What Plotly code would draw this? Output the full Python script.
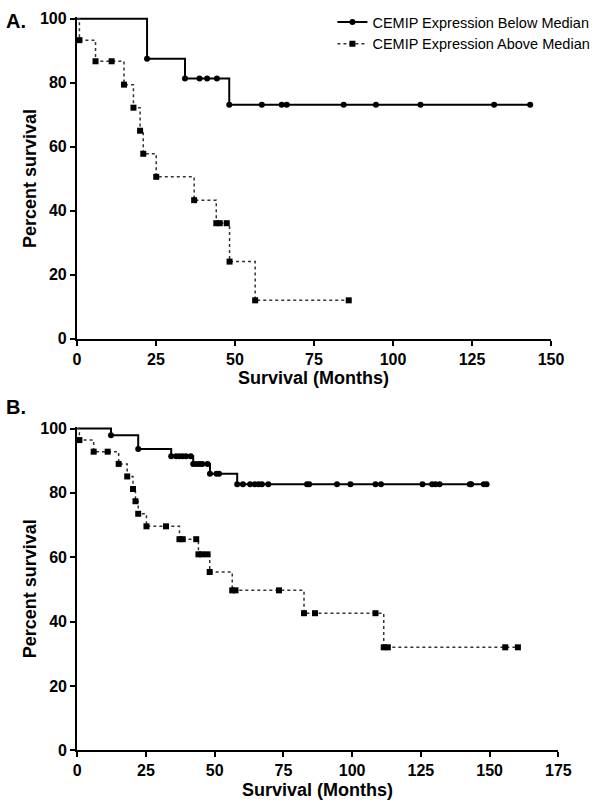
import numpy as np
import plotly.graph_objects as go

# Panel A - survival (months) and percent survival
a_low_event_t = [22.2, 34.2, 48.2]
a_low_event_s = [87.5, 81.3, 73.1]
a_low_censor_t = [38.8, 41.2, 44.3, 58.5, 64.8, 66.4, 84.4, 94.6, 108.7, 132.0, 143.4]

a_high_event_t = [0.8, 5.9, 14.9, 17.9, 20.0, 21.0, 25.1, 37.1, 44.1, 48.3, 56.4]
a_high_event_s = [93.3, 86.7, 79.4, 72.2, 65.0, 57.8, 50.6, 43.3, 36.1, 24.1, 12.0]
a_high_censor_t = [11.0, 45.2, 47.4, 86.0]

# Panel B
b_low_event_t = [12.3, 22.2, 34.2, 42.2, 48.3, 58.2]
b_low_event_s = [97.9, 93.6, 91.4, 89.0, 85.9, 82.7]
b_low_censor_t = [36.0, 37.2, 38.4, 39.6, 41.3, 43.3, 44.5, 45.5, 47.4, 50.7, 51.6,
                  60.3, 62.9, 64.6, 66.0, 67.2, 69.5, 83.6, 84.4, 94.5, 99.4, 108.5,
                  110.5, 125.6, 129.1, 130.3, 131.8, 142.8, 143.3, 147.9, 148.9]

b_high_event_t = [0.8, 6.0, 15.1, 18.2, 20.3, 21.2, 22.2, 25.2, 37.2, 44.1, 48.2, 56.4, 82.5, 111.5]
b_high_event_s = [96.4, 92.8, 89.0, 85.1, 81.2, 77.4, 73.5, 69.6, 65.6, 60.9, 55.4, 49.7, 42.6, 32.0]
b_high_censor_t = [11.1, 32.3, 38.4, 43.3, 45.4, 47.4, 57.6, 73.4, 86.5, 108.5, 113.0, 155.7, 160.3]

name_low = 'CEMIP Expression Below Median'
name_high = 'CEMIP Expression Above Median'

tick_font = dict(family='Liberation Sans Narrow, Arial Narrow, Liberation Sans, Arial',
                 size=16, color='black', weight='bold')
title_font = dict(family='Liberation Sans, Arial', size=18, color='black', weight='bold')


def km_traces(ev_t, ev_s, cen_t, style, xa, ya):
    t = [0.0] + list(ev_t)
    s = [100.0] + list(ev_s)
    # survival level at each censor time
    idx = np.searchsorted(np.array(t), np.array(cen_t), side='right') - 1
    cen_s = [s[i] for i in idx]
    line_x = t[:]
    line_y = s[:]
    if max(cen_t) > t[-1]:
        line_x.append(max(cen_t))
        line_y.append(s[-1])
    out = [go.Scatter(x=line_x, y=line_y, mode='lines', line_shape='hv',
                      line=style['line'], showlegend=False, cliponaxis=False,
                      xaxis=xa, yaxis=ya, hoverinfo='skip'),
           go.Scatter(x=list(ev_t) + list(cen_t), y=list(ev_s) + cen_s, mode='markers',
                      marker=style['marker'], showlegend=False, cliponaxis=False,
                      xaxis=xa, yaxis=ya)]
    return out


solid = dict(line=dict(color='black', width=2),
             marker=dict(symbol='circle', size=6, color='black'))
dotted = dict(line=dict(color='#333333', width=1.5, dash='dot'),
              marker=dict(symbol='square', size=6, color='black'))

fig = go.Figure()
for tr in km_traces(a_low_event_t, a_low_event_s, a_low_censor_t, solid, 'x', 'y'):
    fig.add_trace(tr)
for tr in km_traces(a_high_event_t, a_high_event_s, a_high_censor_t, dotted, 'x', 'y'):
    fig.add_trace(tr)
for tr in km_traces(b_low_event_t, b_low_event_s, b_low_censor_t, solid, 'x2', 'y2'):
    fig.add_trace(tr)
for tr in km_traces(b_high_event_t, b_high_event_s, b_high_censor_t, dotted, 'x2', 'y2'):
    fig.add_trace(tr)

# legend entries
fig.add_trace(go.Scatter(x=[None], y=[None], mode='lines+markers', name=name_low,
                         line=solid['line'], marker=solid['marker']))
fig.add_trace(go.Scatter(x=[None], y=[None], mode='lines+markers', name=name_high,
                         line=dotted['line'], marker=dotted['marker']))

H = 811
W = 600
axis_common = dict(showline=True, linecolor='black', linewidth=2, ticks='outside',
                   ticklen=5, tickwidth=1.5, tickcolor='black', showgrid=False,
                   zeroline=False, tickfont=tick_font)

# a little headroom above 100 % so the top step isn't clipped
ytop = 100.6

fig.update_layout(
    width=W, height=H, autosize=False,
    margin=dict(l=0, r=0, t=0, b=0),
    plot_bgcolor='white', paper_bgcolor='white',
    xaxis=dict(domain=[75 / W, 563 / W], range=[0, 150], tickvals=list(range(0, 151, 25)),
               anchor='y', **axis_common),
    yaxis=dict(domain=[1 - 339 / H, 1 - 11 / H], range=[0, ytop], tickvals=list(range(0, 101, 20)),
               anchor='x', **axis_common),
    xaxis2=dict(domain=[75.3 / W, 570.5 / W], range=[0, 175], tickvals=list(range(0, 176, 25)),
                anchor='y2', **axis_common),
    yaxis2=dict(domain=[1 - 758.3 / H, 1 - 428.5 / H], range=[0, ytop], tickvals=list(range(0, 101, 20)),
                anchor='x2', **axis_common),
    legend=dict(x=338 / W, y=1, xanchor='left', yanchor='top',
                font=dict(family='Liberation Sans, Arial', size=14.5, color='black'),
                bgcolor='rgba(0,0,0,0)', tracegroupgap=0),
    annotations=[
        dict(text='<b>A.</b>', x=0, y=1 - 15 / H, xref='paper', yref='paper',
             xanchor='left', yanchor='middle', showarrow=False,
             font=dict(family='Liberation Sans, Arial', size=20, color='black')),
        dict(text='<b>B.</b>', x=0, y=1 - 409 / H, xref='paper', yref='paper',
             xanchor='left', yanchor='middle', showarrow=False,
             font=dict(family='Liberation Sans, Arial', size=20, color='black')),
        dict(text='Percent survival', x=27 / W, y=1 - 176 / H, xref='paper', yref='paper',
             xanchor='center', yanchor='middle', textangle=-90, showarrow=False, font=title_font),
        dict(text='Percent survival', x=27 / W, y=1 - 594 / H, xref='paper', yref='paper',
             xanchor='center', yanchor='middle', textangle=-90, showarrow=False, font=title_font),
        dict(text='Survival (Months)', x=319 / W, y=1 - 379 / H, xref='paper', yref='paper',
             xanchor='center', yanchor='middle', showarrow=False, font=title_font),
        dict(text='Survival (Months)', x=323 / W, y=1 - 799 / H, xref='paper', yref='paper',
             xanchor='center', yanchor='middle', showarrow=False, font=title_font),
    ],
)

# the page is photographed at exactly the figure size, so drop the default body margin
fig.write_html("out.html", config={'displayModeBar': False},
               post_script="document.body.style.margin='0px';document.body.style.overflow='hidden';")
